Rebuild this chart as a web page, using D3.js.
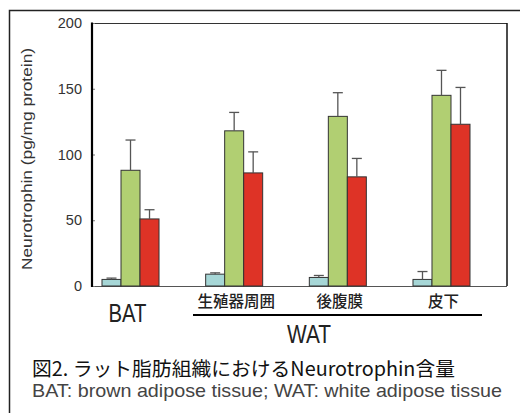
<!DOCTYPE html>
<html><head><meta charset="utf-8">
<script src="https://cdn.jsdelivr.net/npm/d3@7"></script>
<style>html,body{margin:0;padding:0;background:#fff;}svg{display:block;}</style>
</head><body>
<svg id="c" width="520" height="413"></svg>
<script>
const categories = ["BAT", "生殖器周囲", "後腹膜", "皮下"];
const seriesNames = ["s1", "s2", "s3"];
const s1Values = [5, 9, 6.5, 5];
const s1Errors = [1, 1, 1.5, 6];
const s2Values = [88, 118, 129, 145];
const s2Errors = [23, 14, 18, 19];
const s3Values = [51, 86, 83, 123];
const s3Errors = [7, 16, 14, 28];
const yTicks = [0, 50, 100, 150, 200];
const yLabel = "Neurotrophin (pg/mg protein)";
const groupLabel = "WAT";
const caption1 = "図2. ラット脂肪組織におけるNeurotrophin含量";
const caption2 = "BAT: brown adipose tissue; WAT: white adipose tissue";

const colors = ["#a6d6d6", "#b1cf72", "#de3326"];
const values = [s1Values, s2Values, s3Values];
const errors = [s1Errors, s2Errors, s3Errors];

const svg = d3.select("#c");
const font = "'Liberation Sans', Arial, sans-serif";
const jfont = "'Noto Sans CJK JP', sans-serif";

// outer frame
svg.append("rect").attr("x", 9.5).attr("y", 10.5).attr("width", 530).attr("height", 430)
  .attr("fill", "none").attr("stroke", "#222").attr("stroke-width", 1.5);

const plot = {left: 92, right: 507, top: 23, bottom: 286};
const y = d3.scaleLinear().domain([0, 200]).range([plot.bottom, plot.top]);
const x0 = d3.scaleBand().domain(categories).range([102, 470]).paddingInner(0.45).paddingOuter(0);
const x1 = d3.scaleBand().domain(seriesNames).range([0, x0.bandwidth()]);

// frame lines
svg.append("line").attr("x1", plot.left).attr("x2", plot.right).attr("y1", plot.top + 0.5).attr("y2", plot.top + 0.5)
  .attr("stroke", "#333").attr("stroke-width", 1.2);
svg.append("line").attr("x1", plot.right).attr("x2", plot.right).attr("y1", plot.top).attr("y2", plot.bottom)
  .attr("stroke", "#111").attr("stroke-width", 1.5);
svg.append("line").attr("x1", plot.left).attr("x2", plot.right).attr("y1", plot.bottom + 0.5).attr("y2", plot.bottom + 0.5)
  .attr("stroke", "#555").attr("stroke-width", 1.2);

// y axis
const yAxis = d3.axisRight(y).tickValues(yTicks).tickSize(3).tickFormat("");
const gy = svg.append("g").attr("transform", `translate(${plot.left},0)`).call(yAxis);
gy.select(".domain").remove();
gy.selectAll(".tick line").attr("stroke", "#777");
svg.append("line").attr("x1", plot.left).attr("x2", plot.left).attr("y1", plot.top - 0.5).attr("y2", plot.bottom + 1)
  .attr("stroke", "#000").attr("stroke-width", 2.2);
svg.append("g").selectAll("text").data(yTicks).join("text")
  .attr("x", 82).attr("y", d => y(d) + 5).attr("text-anchor", "end")
  .attr("font-family", font).attr("font-size", 14.5).attr("fill", "#333").text(d => d);

svg.append("text").attr("transform", `translate(32,${159}) rotate(-90)`)
  .attr("text-anchor", "middle").attr("font-family", font).attr("font-size", 15).attr("fill", "#333")
  .attr("textLength", 222).attr("lengthAdjust", "spacingAndGlyphs").text(yLabel);

// bars
const gGroups = svg.append("g").selectAll("g").data(categories).join("g")
  .attr("transform", d => `translate(${x0(d)},0)`);
seriesNames.forEach((s, si) => {
  gGroups.append("rect")
    .attr("x", x1(s)).attr("width", x1.bandwidth())
    .attr("y", (d, i) => y(values[si][i])).attr("height", (d, i) => y(0) - y(values[si][i]))
    .attr("fill", colors[si]).attr("stroke", "#333").attr("stroke-width", 1);
  gGroups.append("line")
    .attr("x1", x1(s) + x1.bandwidth() / 2).attr("x2", x1(s) + x1.bandwidth() / 2)
    .attr("y1", (d, i) => y(values[si][i])).attr("y2", (d, i) => y(values[si][i] + errors[si][i]))
    .attr("stroke", "#555").attr("stroke-width", 1.3);
  gGroups.append("line")
    .attr("x1", x1(s) + x1.bandwidth() / 2 - 5).attr("x2", x1(s) + x1.bandwidth() / 2 + 5)
    .attr("y1", (d, i) => y(values[si][i] + errors[si][i])).attr("y2", (d, i) => y(values[si][i] + errors[si][i]))
    .attr("stroke", "#555").attr("stroke-width", 1.3);
});

// category labels
svg.append("text").attr("x", x0(categories[0]) + x0.bandwidth() / 2 - 3).attr("y", 322)
  .attr("text-anchor", "middle").attr("font-family", font).attr("font-size", 26).attr("fill", "#222")
  .attr("textLength", 38).attr("lengthAdjust", "spacingAndGlyphs").text(categories[0]);
svg.append("g").selectAll("text").data(categories.slice(1)).join("text")
  .attr("x", d => x0(d) + x0.bandwidth() / 2 + 2).attr("y", 307)
  .attr("text-anchor", "middle").attr("font-family", jfont).attr("font-size", 15.5).attr("font-weight", 500).attr("fill", "#222")
  .text(d => d);
svg.append("line").attr("x1", 193).attr("x2", 482).attr("y1", 315).attr("y2", 315)
  .attr("stroke", "#000").attr("stroke-width", 2.2);
svg.append("text").attr("x", 309).attr("y", 342.5)
  .attr("text-anchor", "middle").attr("font-family", font).attr("font-size", 26).attr("fill", "#222")
  .attr("textLength", 44).attr("lengthAdjust", "spacingAndGlyphs").text(groupLabel);

// captions
svg.append("text").attr("x", 32).attr("y", 376).attr("font-family", jfont).attr("font-size", 19.5)
  .attr("fill", "#111").attr("textLength", 423).attr("lengthAdjust", "spacingAndGlyphs").text(caption1);
svg.append("text").attr("x", 32).attr("y", 397).attr("font-family", font).attr("font-size", 18.5)
  .attr("fill", "#444").attr("textLength", 470).attr("lengthAdjust", "spacingAndGlyphs").text(caption2);
</script>
</body></html>
